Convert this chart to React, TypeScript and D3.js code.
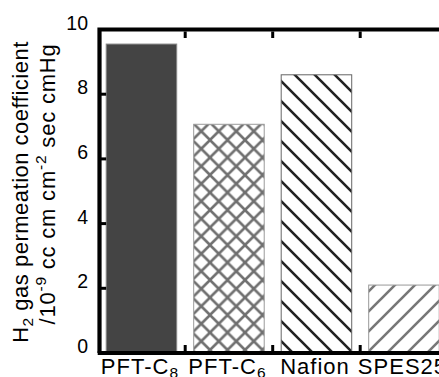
import * as d3 from 'd3'
import { useEffect, useRef } from 'react'

const categories = ['PFT-C8', 'PFT-C6', 'Nafion', 'SPES25']
const labelMain = ['PFT-C', 'PFT-C', 'Nafion', 'SPES25']
const labelSub = ['8', '6', '', '']
const values = [9.55, 7.07, 8.6, 2.1]
const yTicks = [0, 2, 4, 6, 8, 10]
const fills = ['#444444', 'url(#cross)', 'url(#back)', 'url(#fwd)']
const edges = ['#888888', '#9a9a9a', '#666666', '#999999']

const W = 439
const H = 377
const FONT = 'Liberation Sans, Arial, sans-serif'

export default function App() {
  const ref = useRef<SVGSVGElement | null>(null)

  useEffect(() => {
    if (!ref.current) return
    const svg = d3.select(ref.current)
    svg.selectAll('*').remove()

    const left = 97.7
    const top = 29.5
    const bottom = 353
    const right = 447.7

    const x = d3.scaleBand<string>()
      .domain(categories)
      .range([left, right])
      .paddingInner(0.194)
      .paddingOuter(0.097)

    const y = d3.scaleLinear().domain([0, 10]).range([bottom, top])

    // patterns
    const defs = svg.append('defs')
    const cross = defs.append('pattern')
      .attr('id', 'cross').attr('patternUnits', 'userSpaceOnUse')
      .attr('width', 17.5).attr('height', 17.5)
    cross.append('rect').attr('width', 17.5).attr('height', 17.5).attr('fill', '#fff')
    cross.append('path')
      .attr('d', 'M0,0L17.5,17.5M17.5,0L0,17.5M-4,13.5L4,21.5M13.5,-4L21.5,4M-4,4L4,-4M13.5,21.5L21.5,13.5')
      .attr('stroke', '#707070').attr('stroke-width', 2.6)

    const back = defs.append('pattern')
      .attr('id', 'back').attr('patternUnits', 'userSpaceOnUse')
      .attr('width', 20).attr('height', 20)
    back.append('rect').attr('width', 20).attr('height', 20).attr('fill', '#fff')
    back.append('path')
      .attr('d', 'M0,0L20,20M-5,15L5,25M15,-5L25,5')
      .attr('stroke', '#222').attr('stroke-width', 2.6)

    const fwd = defs.append('pattern')
      .attr('id', 'fwd').attr('patternUnits', 'userSpaceOnUse')
      .attr('width', 20).attr('height', 20)
    fwd.append('rect').attr('width', 20).attr('height', 20).attr('fill', '#fff')
    fwd.append('path')
      .attr('d', 'M0,20L20,0M-5,5L5,-5M15,25L25,15')
      .attr('stroke', '#777').attr('stroke-width', 2.6)

    // bars
    svg.append('g')
      .selectAll('rect')
      .data(values)
      .join('rect')
      .attr('x', (_, i) => x(categories[i])!)
      .attr('y', d => y(d))
      .attr('width', x.bandwidth())
      .attr('height', d => bottom - y(d))
      .attr('fill', (_, i) => fills[i])
      .attr('stroke', (_, i) => edges[i])
      .attr('stroke-width', 1)

    // frame
    svg.append('path')
      .attr('d', `M${left + 1.8},${bottom}V${top}H${right}`)
      .attr('fill', 'none').attr('stroke', '#000').attr('stroke-width', 4.2)
    svg.append('line')
      .attr('x1', left).attr('x2', right)
      .attr('y1', bottom).attr('y2', bottom)
      .attr('stroke', '#000').attr('stroke-width', 4.2)

    // y ticks
    const yg = svg.append('g')
    yg.selectAll('line')
      .data(yTicks.filter(t => t > 0 && t < 10))
      .join('line')
      .attr('x1', left + 3).attr('x2', left + 8.5)
      .attr('y1', d => y(d)).attr('y2', d => y(d))
      .attr('stroke', '#000').attr('stroke-width', 3)
    yg.selectAll('text')
      .data(yTicks)
      .join('text')
      .attr('x', 88)
      .attr('y', d => y(d) - 7)
      .attr('text-anchor', 'end')
      .attr('dominant-baseline', 'central')
      .attr('font-family', FONT)
      .attr('font-size', 19.5)
      .text(d => d)

    // x ticks at category boundaries
    const bounds = categories.slice(1).map(c => x(c)! - (x.step() - x.bandwidth()) / 2)
    svg.append('g').selectAll('line')
      .data(bounds)
      .join('line')
      .attr('x1', d => d).attr('x2', d => d)
      .attr('y1', bottom - 2).attr('y2', bottom - 8)
      .attr('stroke', '#000').attr('stroke-width', 3)
    svg.append('g').selectAll('line')
      .data(bounds)
      .join('line')
      .attr('x1', d => d).attr('x2', d => d)
      .attr('y1', top + 2).attr('y2', top + 8.5)
      .attr('stroke', '#000').attr('stroke-width', 3)

    // x labels
    const xl = svg.append('g')
      .selectAll('text')
      .data(categories)
      .join('text')
      .attr('x', d => x(d)! + x.bandwidth() / 2 - 1.5)
      .attr('y', 374)
      .attr('text-anchor', 'middle')
      .attr('font-family', FONT)
      .attr('font-size', 22)
      .attr('letter-spacing', 1)
    xl.append('tspan').text((_, i) => labelMain[i])
    xl.append('tspan')
      .attr('font-size', 15.5)
      .attr('dy', 4)
      .text((_, i) => labelSub[i])

    // y axis title
    const t1 = svg.append('text')
      .attr('transform', 'translate(28,192) rotate(-90)')
      .attr('text-anchor', 'middle')
      .attr('font-family', FONT)
      .attr('font-size', 22)
      .attr('letter-spacing', 0.5)
    t1.append('tspan').text('H')
    t1.append('tspan').attr('font-size', 15.5).attr('dy', 5).text('2')
    t1.append('tspan').attr('dy', -5).text(' gas permeation coefficient')

    const t2 = svg.append('text')
      .attr('transform', 'translate(55,184) rotate(-90)')
      .attr('text-anchor', 'middle')
      .attr('font-family', FONT)
      .attr('font-size', 22)
      .attr('letter-spacing', 0.8)
    t2.append('tspan').text('/10')
    t2.append('tspan').attr('font-size', 15.5).attr('dy', -9).text('-9')
    t2.append('tspan').attr('dy', 9).text(' cc cm cm')
    t2.append('tspan').attr('font-size', 15.5).attr('dy', -9).text('-2')
    t2.append('tspan').attr('dy', 9).text(' sec cmHg')
  }, [])

  return (
    <svg
      ref={ref}
      width={W}
      height={H}
      style={{ position: 'fixed', left: 0, top: 0, background: '#fff' }}
    />
  )
}
